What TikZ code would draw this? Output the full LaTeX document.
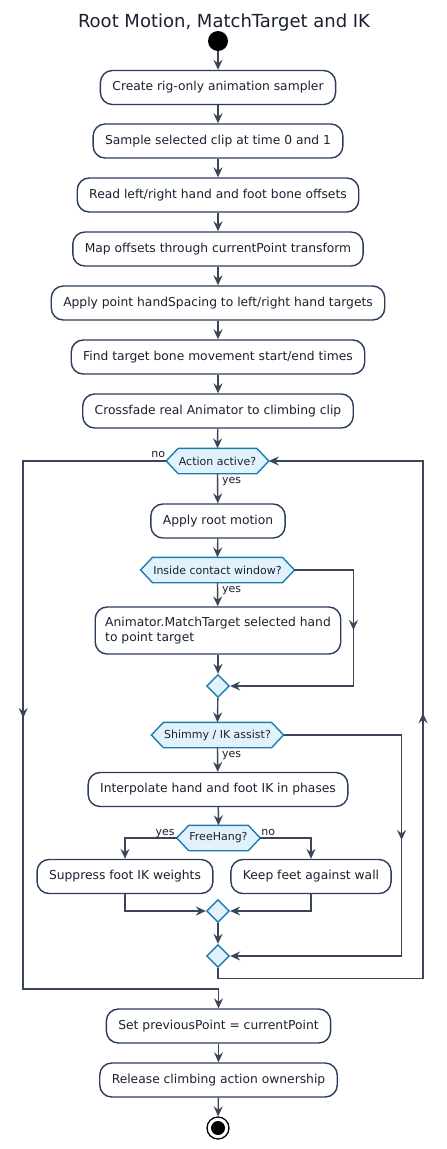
\documentclass[tikz,border=0pt]{standalone}
\usepackage{fontspec}
\setmainfont{DejaVu Sans}
\usetikzlibrary{arrows.meta,shapes.geometric,decorations.markings,backgrounds}

\definecolor{linegray}{HTML}{3A4558}
\definecolor{boxline}{HTML}{2B3D5C}
\definecolor{decfill}{HTML}{E2F2FC}
\definecolor{decline}{HTML}{1C7DB5}
\definecolor{inktext}{HTML}{1B2130}

\tikzset{
    actbox/.style={draw=boxline, fill=white, rounded corners=12pt, line width=1.4pt,
        minimum height=34pt, inner xsep=12pt, font=\fontsize{12.3}{15}\selectfont, text=inktext},
    decbox/.style={inner xsep=12.5pt, inner ysep=0pt, minimum height=25pt,
        font=\fontsize{11}{13}\selectfont, text=inktext},
    mergebox/.style={diamond, draw=decline, fill=decfill, line width=1.4pt,
        minimum width=23pt, minimum height=23pt, inner sep=0pt},
    flowline/.style={draw=linegray, line width=1.4pt, -{Stealth[length=10pt,width=9pt,inset=3.5pt]}},
    edgelabel/.style={font=\fontsize{11}{13}\selectfont, text=inktext, inner sep=0pt},
    midtip/.style={postaction=decorate, decoration={markings,
        mark=at position #1 with {\arrow{Stealth[length=10pt,width=9pt,inset=3.5pt]}}}},
}

% hexagon behind a decision node
\newcommand{\hexshape}[1]{%
    \begin{pgfonlayer}{background}
        \draw[draw=decline, fill=decfill, line width=1.4pt] (#1.west) -- ([xshift=12pt]#1.north west)
            -- ([xshift=-12pt]#1.north east) -- (#1.east) -- ([xshift=-12pt]#1.south east)
            -- ([xshift=12pt]#1.south west) -- cycle;
    \end{pgfonlayer}}

\begin{document}
\begin{tikzpicture}[x=1pt,y=-1pt]
    \begin{pgfonlayer}{background}
        \fill[white] (0,0) rectangle (447,1149);
    \end{pgfonlayer}
    \useasboundingbox (0,0) rectangle (447,1149);

    \node[anchor=base, font=\fontsize{18}{21}\selectfont, text=inktext] (title) at (224,27) {Root Motion, MatchTarget and IK};

    \node[circle, fill=black, minimum size=20pt, inner sep=0pt] (start) at (218,41) {};

    \node[actbox] (sampler)  at (218,87.5) {Create rig-only animation sampler};
    \node[actbox] (sample)   at (218,141)  {Sample selected clip at time 0 and 1};
    \node[actbox] (offsets)  at (218,195)  {Read left/right hand and foot bone offsets};
    \node[actbox] (mapping)  at (218,249)  {Map offsets through currentPoint transform};
    \node[actbox] (spacing)  at (218,303)  {Apply point handSpacing to left/right hand targets};
    \node[actbox] (times)    at (218,357)  {Find target bone movement start/end times};
    \node[actbox] (fade)     at (218,411)  {Crossfade real Animator to climbing clip};

    \node[decbox] (active) at (217.5,461) {Action active?};
    \hexshape{active}

    \node[actbox] (rootmot) at (218,521) {Apply root motion};

    \node[decbox] (window) at (217.5,570) {Inside contact window?};
    \hexshape{window}

    \node[actbox, align=left, minimum height=47pt, inner xsep=10pt] (match) at (218,630.5)
        {Animator.MatchTarget selected hand\\to point target};

    \node[mergebox] (mergeA) at (218,686) {};

    \node[decbox] (shimmy) at (217.5,735) {Shimmy / IK assist?};
    \hexshape{shimmy}

    \node[actbox] (interp) at (218,789.5) {Interpolate hand and foot IK in phases};

    \node[decbox] (freehang) at (218.5,838) {FreeHang?};
    \hexshape{freehang}

    \node[actbox] (suppress) at (125,876.5) {Suppress foot IK weights};
    \node[actbox] (keepfeet) at (311,876.5) {Keep feet against wall};

    \node[mergebox] (mergeB) at (218,911) {};
    \node[mergebox] (mergeC) at (218,956) {};

    \node[actbox] (setprev) at (218.5,1026) {Set previousPoint = currentPoint};
    \node[actbox] (release) at (218.5,1080) {Release climbing action ownership};

    \node[circle, draw=black, line width=1.3pt, minimum size=22pt, inner sep=0pt] (stop) at (218,1128) {};
    \fill[black] (stop.center) circle (7pt);

    % main column
    \draw[flowline] (start) -- (sampler);
    \draw[flowline] (sampler) -- (sample);
    \draw[flowline] (sample) -- (offsets);
    \draw[flowline] (offsets) -- (mapping);
    \draw[flowline] (mapping) -- (spacing);
    \draw[flowline] (spacing) -- (times);
    \draw[flowline] (times) -- (fade);
    \draw[flowline] (fade) -- (active.north);

    % loop body
    \draw[flowline] (active.south) -- (rootmot);
    \node[edgelabel, anchor=base west] (yesA) at ([xshift=4.5pt,yshift=-9.5pt]active.south) {yes};
    \draw[flowline] (rootmot) -- (window.north);
    \draw[flowline] (window.south) -- (match);
    \node[edgelabel, anchor=base west] (yesB) at ([xshift=4.5pt,yshift=-10pt]window.south) {yes};
    \draw[flowline] (match) -- (mergeA);
    \draw[flowline, midtip=119pt] (window.east) -- ++(59,0) |- (mergeA.east);

    \draw[flowline] (mergeA) -- (shimmy.north);
    \draw[flowline] (shimmy.south) -- (interp);
    \node[edgelabel, anchor=base west] (yesC) at ([xshift=4.5pt,yshift=-10pt]shimmy.south) {yes};
    \draw[flowline] (interp) -- (freehang.north);
    \draw[flowline] (freehang.west) -| (suppress.north);
    \draw[flowline] (freehang.east) -| (keepfeet.north);
    \node[edgelabel, anchor=base east] (yesD) at ([xshift=-2pt,yshift=3pt]freehang.west) {yes};
    \node[edgelabel, anchor=base west] (noD) at ([xshift=1pt,yshift=3pt]freehang.east) {no};
    \draw[flowline] (suppress.south) |- (mergeB.west);
    \draw[flowline] (keepfeet.south) |- (mergeB.east);
    \draw[flowline] (mergeB) -- (mergeC);
    \draw[flowline, midtip=223pt] (shimmy.east) -- ++(118,0) |- (mergeC.east);

    % back to the test
    \draw[flowline, midtip=480pt] (mergeC.south) -- ++(0,10) -- ++(205,0) |- (active.east);

    % leaving the loop
    \draw[flowline, midtip=400pt] (active.west) -- ++(-143,0) -- ++(0,528) -| (setprev.north);
    \node[edgelabel, anchor=base east] (noA) at ([xshift=-1pt,yshift=4pt]active.west) {no};

    \draw[flowline] (setprev) -- (release);
    \draw[flowline] (release) -- (stop);
\end{tikzpicture}
\end{document}
